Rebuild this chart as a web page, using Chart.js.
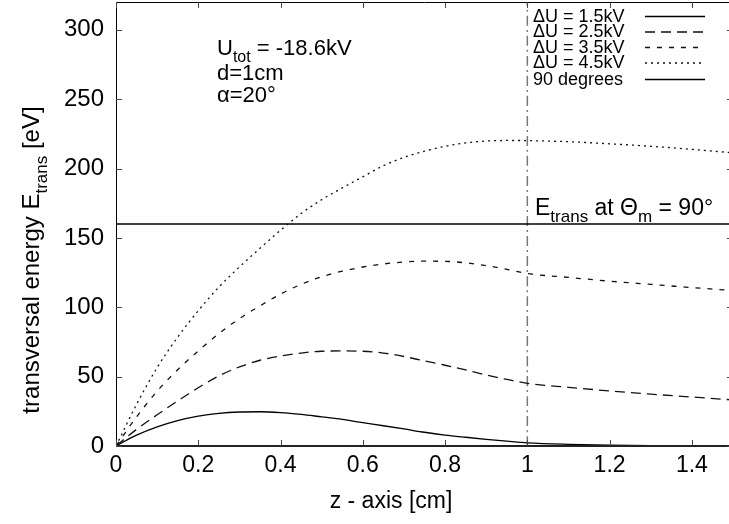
<!DOCTYPE html>
<html>
<head>
<meta charset="utf-8">
<script src="https://cdn.jsdelivr.net/npm/chart.js@4.4.1/dist/chart.umd.min.js"></script>
<style>
  html, body { margin: 0; padding: 0; background: #fff; overflow: hidden; }
  #wrap { width: 729px; height: 524px; overflow: hidden; position: relative; }
  canvas { display: block; }
</style>
</head>
<body>
<div id="wrap"><canvas id="c" width="740" height="524"></canvas></div>
<script>
// ---- data ----
const Z_VALUES = [0, 0.05, 0.1, 0.15, 0.2, 0.25, 0.3, 0.35, 0.4, 0.45, 0.5,
                  0.55, 0.6, 0.65, 0.7, 0.75, 0.8, 0.85, 0.9, 0.95, 1.0,
                  1.1, 1.2, 1.3, 1.4, 1.5];
const E_DU_1_5 = [0, 7.8, 13.8, 18.3, 21.5, 23.5, 24.5, 24.7, 24.1, 22.8, 21,
                  19.2, 16.8, 14.6, 12.3, 9.9, 7.9, 6.3, 4.8, 3.5, 2.3,
                  1.2, 0.6, 0.3, 0.15, 0.1];
const E_DU_2_5 = [0, 12, 22.5, 32.5, 42, 50.5, 57, 61.8, 64.8, 67, 68.3,
                  68.5, 68.3, 67, 64.5, 61.3, 58.2, 54.8, 51.2, 48, 45.2,
                  42.3, 39.7, 37.4, 35.3, 33.2];
const E_DU_3_5 = [0, 21, 39.5, 55, 68.5, 81, 91.8, 101, 109.5, 116.5, 122,
                  126, 129, 131.2, 132.6, 133.2, 133.1, 132, 130, 127.3, 124.3,
                  121.5, 118.8, 116.5, 114.2, 112];
const E_DU_4_5 = [0, 30, 56.5, 78.5, 97.5, 114.5, 129, 142.5, 155.5, 167.5, 177.5,
                  186, 194, 202, 208, 212.5, 216, 218.5, 219.8, 220.2, 220.1,
                  219.3, 217.8, 216, 213.8, 211.3];
const E_90_DEGREES = 160;       // E_trans at Theta_m = 90 deg
const MARKER_Z = 1;             // d = 1 cm
const SERIES_LABELS = ['\u0394U = 1.5kV', '\u0394U = 2.5kV', '\u0394U = 3.5kV', '\u0394U = 4.5kV', '90 degrees'];
const X_TICKS = [0, 0.2, 0.4, 0.6, 0.8, 1, 1.2, 1.4];
const Y_TICKS = [0, 50, 100, 150, 200, 250, 300];
const X_MIN = 0, X_MAX = 1.5, Y_MIN = 0, Y_MAX = 320;

const FONT = '"Liberation Sans", Arial, Helvetica, sans-serif';

function pts(arr) { return Z_VALUES.map((z, i) => ({ x: z, y: arr[i] })); }

const datasets = [
  { label: SERIES_LABELS[0], data: pts(E_DU_1_5), borderColor: '#000', borderWidth: 1.3, borderDash: [] },
  { label: SERIES_LABELS[1], data: pts(E_DU_2_5), borderColor: '#111', borderWidth: 1.3, borderDash: [10, 6] },
  { label: SERIES_LABELS[2], data: pts(E_DU_3_5), borderColor: '#111', borderWidth: 1.3, borderDash: [5, 7] },
  { label: SERIES_LABELS[3], data: pts(E_DU_4_5), borderColor: '#111', borderWidth: 1.3, borderDash: [2, 4] },
  { label: SERIES_LABELS[4], data: [{ x: X_MIN, y: E_90_DEGREES }, { x: X_MAX, y: E_90_DEGREES }],
    borderColor: '#000', borderWidth: 1.3, borderDash: [] },
  { label: 'marker', data: [{ x: MARKER_Z, y: Y_MIN }, { x: MARKER_Z, y: Y_MAX }],
    borderColor: '#777', borderWidth: 1.5, borderDash: [10, 4, 2, 4] }
];
datasets.forEach(d => { d.pointRadius = 0; d.fill = false; d.cubicInterpolationMode = 'monotone'; });

function richText(ctx, x, y, segs, size) {
  let cx = x;
  segs.forEach(s => {
    const fs = s.sub ? Math.round(size * 0.72) : size;
    ctx.font = fs + 'px ' + FONT;
    ctx.fillText(s.t, cx, y + (s.sub ? size * 0.32 : 0));
    cx += ctx.measureText(s.t).width;
  });
  return cx - x;
}
function richWidth(ctx, segs, size) {
  let w = 0;
  segs.forEach(s => {
    const fs = s.sub ? Math.round(size * 0.72) : size;
    ctx.font = fs + 'px ' + FONT;
    w += ctx.measureText(s.t).width;
  });
  return w;
}

const decor = {
  id: 'decor',
  afterDraw(chart) {
    const ctx = chart.ctx;
    const a = chart.chartArea;
    const xs = chart.scales.x, ys = chart.scales.y;
    ctx.save();
    ctx.strokeStyle = '#000';
    ctx.lineWidth = 1;
    ctx.beginPath();
    ctx.moveTo(a.left + 0.5, a.bottom); ctx.lineTo(a.left + 0.5, a.top + 0.5);
    ctx.lineTo(a.right, a.top + 0.5); ctx.lineTo(a.right, a.bottom);
    ctx.stroke();
    ctx.lineWidth = 2;
    ctx.strokeStyle = '#222';
    ctx.beginPath(); ctx.moveTo(a.left, a.bottom); ctx.lineTo(a.right, a.bottom); ctx.stroke();
    ctx.lineWidth = 1;
    ctx.strokeStyle = '#444';
    const TL = 6;
    ctx.beginPath();
    Y_TICKS.forEach(v => {
      const py = Math.round(ys.getPixelForValue(v)) + 0.5;
      ctx.moveTo(a.left, py); ctx.lineTo(a.left + TL, py);
      ctx.moveTo(a.right, py); ctx.lineTo(a.right - TL, py);
    });
    X_TICKS.forEach(v => {
      const px = Math.round(xs.getPixelForValue(v)) + 0.5;
      ctx.moveTo(px, a.bottom); ctx.lineTo(px, a.bottom - TL);
      ctx.moveTo(px, a.top); ctx.lineTo(px, a.top + TL);
    });
    ctx.stroke();

    ctx.fillStyle = '#000';
    ctx.textBaseline = 'alphabetic';
    ctx.textAlign = 'left';
    richText(ctx, 217, 55, [{ t: 'U' }, { t: 'tot', sub: true }, { t: ' = -18.6kV' }], 22);
    richText(ctx, 217, 80, [{ t: 'd=1cm' }], 22);
    richText(ctx, 217, 102, [{ t: '\u03b1=20\u00b0' }], 22);
    richText(ctx, 535, 215, [{ t: 'E' }, { t: 'trans', sub: true }, { t: ' at \u0398' }, { t: 'm', sub: true }, { t: ' = 90\u00b0' }], 23);

    ctx.font = '23px ' + FONT;
    ctx.textAlign = 'center';
    ctx.fillText('z - axis [cm]', 391, 508);
    ctx.textAlign = 'left';
    const ySegs = [{ t: 'transversal energy E' }, { t: 'trans', sub: true }, { t: ' [eV]' }];
    const yw = richWidth(ctx, ySegs, 24);
    ctx.save();
    ctx.translate(39, 260);
    ctx.rotate(-Math.PI / 2);
    richText(ctx, -yw / 2, 0, ySegs, 24);
    ctx.restore();

    const rowY = [16, 31.5, 47, 62.5, 79];
    for (let i = 0; i < 5; i++) {
      const ds = chart.data.datasets[i];
      const y = rowY[i];
      ctx.font = '18px ' + FONT;
      ctx.textBaseline = 'middle';
      ctx.fillStyle = '#000';
      ctx.fillText(ds.label, 533, y + 1);
      ctx.strokeStyle = ds.borderColor;
      ctx.lineWidth = ds.borderWidth;
      ctx.setLineDash(ds.borderDash || []);
      ctx.beginPath(); ctx.moveTo(645, y + 0.5); ctx.lineTo(705, y + 0.5); ctx.stroke();
      ctx.setLineDash([]);
    }
    ctx.restore();
  }
};

new Chart(document.getElementById('c'), {
  type: 'line',
  data: { datasets },
  options: {
    responsive: false,
    animation: false,
    devicePixelRatio: 1,
    layout: { padding: { top: 2, right: 7, left: 0, bottom: 0 } },
    plugins: { legend: { display: false }, tooltip: { enabled: false } },
    scales: {
      x: {
        type: 'linear', min: X_MIN, max: X_MAX,
        afterBuildTicks: s => { s.ticks = X_TICKS.map(v => ({ value: v })); },
        afterFit: s => { s.height = 78; s.paddingLeft = 0; s.paddingRight = 0; },
        grid: { display: false, drawTicks: false },
        border: { display: false },
        ticks: { color: '#000', font: { family: FONT, size: 23 }, padding: 6, maxRotation: 0,
                 callback: v => String(v) }
      },
      y: {
        type: 'linear', min: Y_MIN, max: Y_MAX,
        afterBuildTicks: s => { s.ticks = Y_TICKS.map(v => ({ value: v })); },
        afterFit: s => { s.width = 116; s.paddingTop = 0; s.paddingBottom = 0; },
        grid: { display: false, drawTicks: false },
        border: { display: false },
        ticks: { color: '#000', font: { family: FONT, size: 24 }, padding: 12,
                 callback: v => String(v) }
      }
    }
  },
  plugins: [decor]
});
</script>
</body>
</html>
